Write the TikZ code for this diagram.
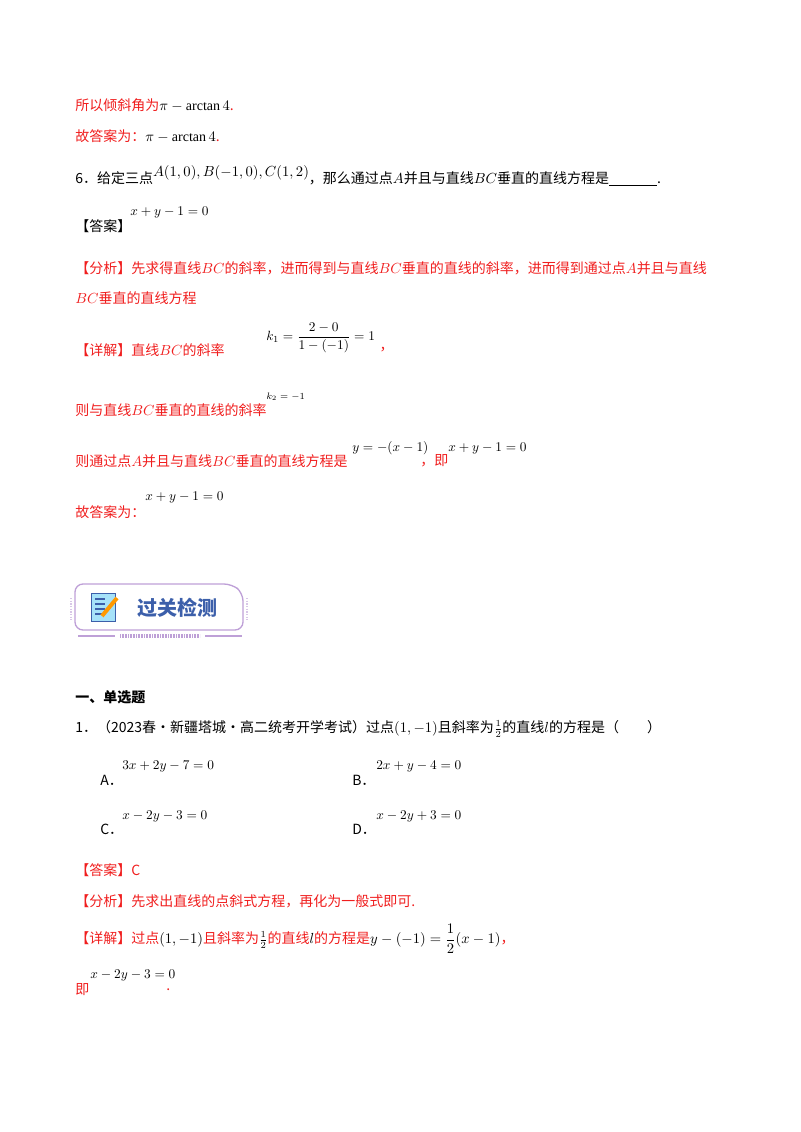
\documentclass[tikz,border=0pt]{standalone}
\usepackage{amsmath}
\usepackage{fontspec}
\setmainfont{Liberation Serif}
\newfontfamily\cjk{Noto Sans CJK SC}
\usetikzlibrary{positioning}
\definecolor{ansred}{RGB}{240,30,30}
\definecolor{bannerblue}{RGB}{60,95,170}
\definecolor{bannerline}{RGB}{190,160,215}
\tikzset{
  line/.style={anchor=west, inner sep=0pt, font=\cjk\fontsize{10.5}{12}\selectfont},
  redline/.style={line, text=ansred},
  eq/.style={anchor=west, inner sep=0pt, font=\fontsize{10}{12}\selectfont}
}
\begin{document}
\begin{tikzpicture}[x=0.75pt,y=0.75pt,yscale=-1,xscale=1]
\useasboundingbox (0,0) rectangle (800,1132);

% previous solution
\node[redline] (tilt) at (75,105) {所以倾斜角为\textcolor{black}{$\pi-\arctan 4$}.};
\node[redline] (ans5) at (75,136) {故答案为：\textcolor{black}{$\pi-\arctan 4$}.};

% question 6
\node[line] (q6) at (75,176) {6．给定三点\raisebox{5pt}{$A(1,0),B(-1,0),C(1,2)$}，那么通过点$A$并且与直线$BC$垂直的直线方程是\underline{\hspace{36pt}}.};
\node[line] (ans6) at (75,226) {【答案】};
\node[eq] (ans6eq) at (130,212) {$x+y-1=0$};
\node[redline] (ana6) at (75,268) {【分析】先求得直线$BC$的斜率，进而得到与直线$BC$垂直的直线的斜率，进而得到通过点$A$并且与直线};
\node[redline] (ana6b) at (75,298) {$BC$垂直的直线方程};
\node[redline] (det6) at (75,350) {【详解】直线$BC$的斜率};
\node[eq] (k1) at (266,338) {$k_1=\dfrac{2-0}{1-(-1)}=1$};
\node[redline] (k1c) at ([xshift=3pt]k1.east |- det6.west) {，};
\node[redline] (slope) at (75,410) {则与直线$BC$垂直的直线的斜率};
\node[eq, font=\fontsize{7}{8}\selectfont] (k2) at (266,397) {$k_2=-1$};
\node[redline] (line6) at (75,461) {则通过点$A$并且与直线$BC$垂直的直线方程是};
\node[eq] (yeq) at (352,448) {$y=-(x-1)$};
\node[redline] (ji) at (420,461) {，即};
\node[eq] (line6eq) at (448,448) {$x+y-1=0$};
\node[redline] (fin6) at (75,512) {故答案为：};
\node[eq] (fin6eq) at (145,497) {$x+y-1=0$};

% banner
\draw[bannerline, line width=1pt, rounded corners=6pt] (75,584) -- (232,584) -- (243,593) -- (243,630) -- (75,630) -- cycle;
\draw[bannerline!60, line width=1.5pt, dash pattern=on 1pt off 1pt] (71,598) -- (71,620);
\draw[bannerline!60, line width=1.5pt, dash pattern=on 1pt off 1pt] (247,598) -- (247,620);
\draw[bannerline, line width=1pt] (78,636) -- (115,636);
\draw[bannerline, line width=1pt] (205,636) -- (242,636);
\draw[bannerline, line width=3pt, dash pattern=on 0.6pt off 0.6pt] (120,636) -- (200,636);
\fill[cyan!35, draw=bannerblue, line width=0.6pt] (91,593) rectangle (115,621);
\foreach \yy in {599,604,609,614} \draw[bannerblue, line width=0.8pt] (95,\yy) -- (105,\yy);
\draw[orange!80!yellow, line width=3pt] (102,616) -- (117,598);
\node[font=\cjk\bfseries\fontsize{15}{16}\selectfont, text=bannerblue, anchor=center] (banner) at (177,608) {过关检测};

% single choice
\node[line, font=\cjk\bfseries\fontsize{10.5}{12}\selectfont] (sec) at (75,697) {一、单选题};
\node[line] (q1) at (75,729) {1．（2023春·新疆塔城·高二统考开学考试）过点$(1,-1)$且斜率为$\frac{1}{2}$的直线$l$的方程是（\hspace{2em}）};
\node[line] (optA) at (100,780) {A．};
\node[eq] (optAeq) at (122,766) {$3x+2y-7=0$};
\node[line] (optB) at (352,780) {B．};
\node[eq] (optBeq) at (376,766) {$2x+y-4=0$};
\node[line] (optC) at (100,829) {C．};
\node[eq] (optCeq) at (122,816) {$x-2y-3=0$};
\node[line] (optD) at (352,829) {D．};
\node[eq] (optDeq) at (376,816) {$x-2y+3=0$};
\node[redline] (ans1) at (75,870) {【答案】C};
\node[redline] (ana1) at (75,901) {【分析】先求出直线的点斜式方程，再化为一般式即可.};
\node[redline] (det1) at (75,939) {【详解】过点\textcolor{black}{$(1,-1)$}且斜率为\textcolor{black}{$\frac{1}{2}$}的直线\textcolor{black}{$l$}的方程是\textcolor{black}{$y-(-1)=\dfrac{1}{2}(x-1)$}，};
\node[redline] (ji1) at (75,990) {即};
\node[eq] (ji1eq) at (90,975) {$x-2y-3=0$};
\node[redline] (dot1) at (166,990) {.};
\end{tikzpicture}
\end{document}
